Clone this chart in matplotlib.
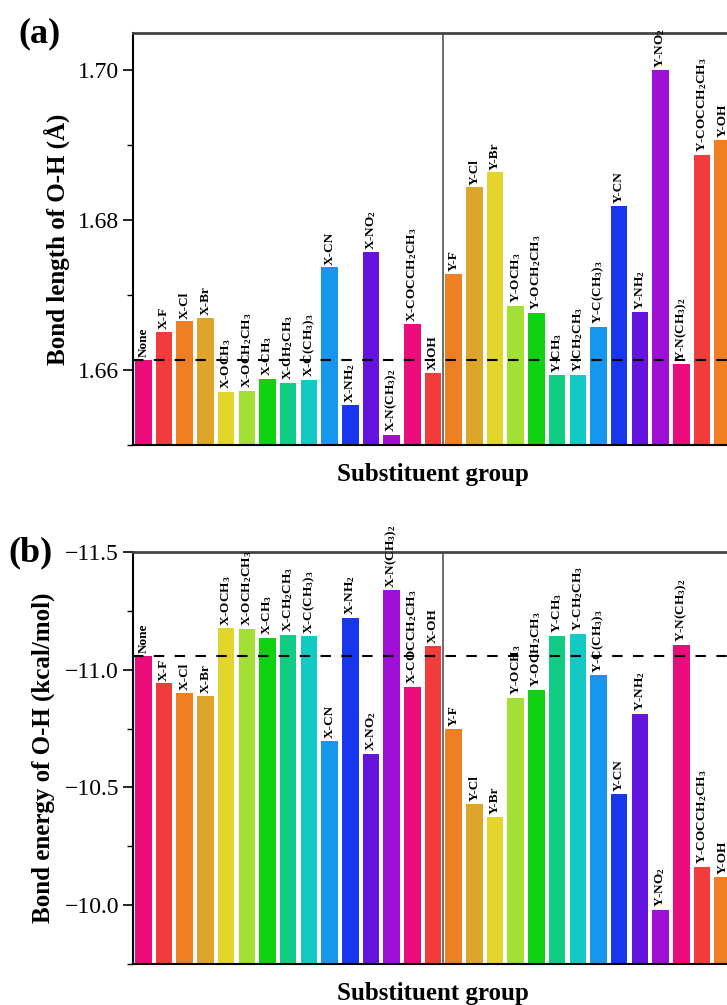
import matplotlib
matplotlib.use("Agg")
import matplotlib.pyplot as plt
from matplotlib.ticker import MultipleLocator, AutoMinorLocator

plt.rcParams['font.family'] = ['Liberation Serif', 'DejaVu Serif']
plt.rcParams['mathtext.fontset'] = 'custom'
plt.rcParams['mathtext.rm'] = 'Liberation Serif:bold'
plt.rcParams['mathtext.bf'] = 'Liberation Serif:bold'
plt.rcParams['mathtext.default'] = 'bf'

# substituent labels (None + X-series + Y-series)
groups = ["F", "Cl", "Br", "OCH$_3$", "OCH$_2$CH$_3$", "CH$_3$", "CH$_2$CH$_3$",
          "C(CH$_3$)$_3$", "CN", "NH$_2$", "NO$_2$", "N(CH$_3$)$_2$",
          "COCCH$_2$CH$_3$", "OH"]
labels = ["None"] + ["X-" + g for g in groups] + ["Y-" + g for g in groups]

# bond length of O-H (Angstrom)
bond_length = [1.6614,
               1.6651, 1.6665, 1.6670, 1.6571, 1.6572, 1.6588, 1.6583, 1.6587,
               1.6737, 1.6553, 1.6757, 1.6514, 1.6661, 1.6596,
               1.6728, 1.6844, 1.6864, 1.6686, 1.6676, 1.6593, 1.6594, 1.6658,
               1.6819, 1.6677, 1.7000, 1.6608, 1.6887, 1.6907]

# bond energy of O-H (kcal/mol)
bond_energy = [-11.059,
               -10.941, -10.901, -10.887, -11.175, -11.171, -11.134, -11.148, -11.141,
               -10.697, -11.220, -10.642, -11.336, -10.925, -11.099,
               -10.747, -10.430, -10.375, -10.880, -10.914, -11.144, -11.150, -10.975,
               -10.472, -10.811, -9.980, -11.106, -10.162, -10.122]

palette = ["#EC0C7C", "#F23B3B", "#EE7F22", "#DDA62A", "#E3D52B", "#A3E033",
           "#0FD10F", "#10CC85", "#12C9C4", "#1597EE", "#1836EE", "#6414DC", "#A00FD6"]
colors = [palette[i % len(palette)] for i in range(len(labels))]

fig = plt.figure(figsize=(7.27, 10.05), dpi=100)
ax_a = fig.add_axes([133 / 727, 1 - 445 / 1005, 600 / 727, 412 / 1005])
ax_b = fig.add_axes([133 / 727, 1 - 964.3 / 1005, 600 / 727, 412.6 / 1005])

x = list(range(len(labels)))


def draw_panel(ax, values, ylabel):
    ax.bar(x, values, width=0.8, color=colors, edgecolor='none', zorder=2)
    for xi, v, lab in zip(x, values, labels):
        ax.annotate(lab, (xi, v), xytext=(0, 2), textcoords='offset points',
                    rotation=90, ha='center', va='bottom', fontsize=9.5,
                    fontweight='bold', zorder=3)
    ax.axhline(values[0], color='black', lw=1.5, dashes=(5, 5), zorder=4)
    ax.axvline(14.5, color='#555555', lw=1.2, zorder=1)
    ax.set_xlim(-0.5, len(labels) - 0.5)
    ax.set_xticks([])
    ax.set_ylabel(ylabel, fontsize=18, fontweight='bold')
    ax.set_xlabel("Substituent group", fontsize=18, fontweight='bold')
    ax.xaxis.set_label_coords(0.5, -0.043)
    ax.tick_params(axis='y', which='major', direction='out', length=7, width=1.2,
                   labelsize=17, pad=3)
    ax.tick_params(axis='y', which='minor', direction='out', length=4, width=1.0)
    ax.spines['top'].set_color('#444444')
    ax.spines['top'].set_linewidth(2)
    for s in ('left', 'bottom'):
        ax.spines[s].set_linewidth(1.5)


draw_panel(ax_a, bond_length, "Bond length of O-H (Å)")
ax_a.set_ylim(1.65, 1.705)
ax_a.yaxis.set_major_locator(MultipleLocator(0.02))
ax_a.yaxis.set_minor_locator(AutoMinorLocator(2))
ax_a.yaxis.set_major_formatter(matplotlib.ticker.FormatStrFormatter('%.2f'))
ax_a.yaxis.set_label_coords(-0.105, 0.5)

draw_panel(ax_b, bond_energy, "Bond energy of O-H (kcal/mol)")
ax_b.set_ylim(-9.75, -11.5)
ax_b.yaxis.set_major_locator(MultipleLocator(0.5))
ax_b.yaxis.set_minor_locator(AutoMinorLocator(2))
ax_b.yaxis.set_major_formatter(matplotlib.ticker.FuncFormatter(lambda v, p: f"{v:.1f}".replace("-", "\u2212")))
ax_b.yaxis.set_label_coords(-0.13, 0.5)

fig.text(18 / 727, 1 - 34 / 1005, "(a)", fontsize=26, fontweight='bold', ha='left', va='center')
fig.text(8 / 727, 1 - 553 / 1005, "(b)", fontsize=26, fontweight='bold', ha='left', va='center')

fig.savefig("out.png", dpi=100)
